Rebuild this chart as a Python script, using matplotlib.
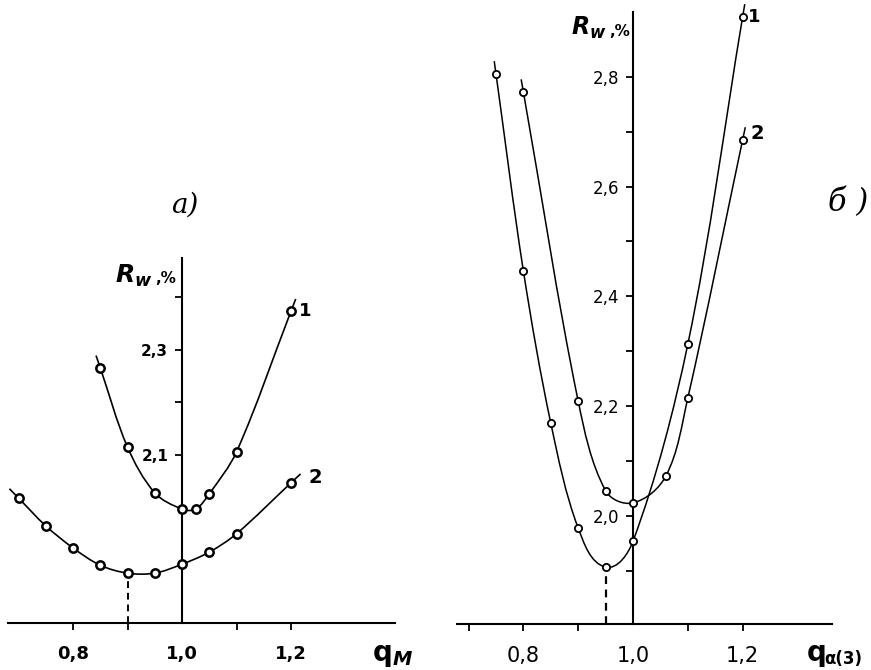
"""Two-panel R_w curves (a: vs q_M, b: vs q_alpha(3)), hand-drawn journal figure style."""
import matplotlib
matplotlib.use("Agg")
import matplotlib.pyplot as plt
import numpy as np
from matplotlib.path import Path
from matplotlib.patches import PathPatch

plt.rcParams["mathtext.fontset"] = "custom"
plt.rcParams["mathtext.it"] = "DejaVu Sans:italic:bold"
plt.rcParams["mathtext.bf"] = "DejaVu Sans:bold"
plt.rcParams["mathtext.rm"] = "DejaVu Sans:bold"

# panel a) -- R_w, % vs q_M
QM_1 = [0.85, 0.90, 0.95, 1.00, 1.025, 1.05, 1.10, 1.20]
RW_A1 = [2.266, 2.115, 2.028, 1.997, 1.997, 2.026, 2.106, 2.374]
QM_2 = [0.70, 0.75, 0.80, 0.85, 0.90, 0.95, 1.00, 1.05, 1.10, 1.20]
RW_A2 = [2.018, 1.965, 1.923, 1.890, 1.875, 1.875, 1.892, 1.915, 1.950, 2.047]
MIN_A = 0.90

# panel b) -- R_w, % vs q_alpha(3)
QA_1 = [0.75, 0.80, 0.85, 0.90, 0.95, 1.00, 1.10, 1.20]
RW_B1 = [2.805, 2.446, 2.169, 1.978, 1.907, 1.954, 2.313, 2.909]
QA_2 = [0.80, 0.90, 0.95, 1.00, 1.06, 1.10, 1.20]
RW_B2 = [2.772, 2.209, 2.046, 2.024, 2.073, 2.215, 2.685]
MIN_B = 0.95

XLAB_A = ["0,8", "1,0", "1,2"]
XMAJ_A = [0.8, 1.0, 1.2]
XMIN_A = [0.8, 0.9, 1.1, 1.2]
YLAB_A = ["2,1", "2,3"]
YMAJ_A = [2.1, 2.3]
YMIN_A = [2.1, 2.2, 2.3, 2.4]

XLAB_B = ["0,8", "1,0", "1,2"]
XMAJ_B = [0.8, 1.0, 1.2]
XMIN_B = [0.7, 0.8, 0.9, 1.1, 1.2]
YLAB_B = ["2,0", "2,2", "2,4", "2,6", "2,8"]
YMAJ_B = [2.0, 2.2, 2.4, 2.6, 2.8]
YMIN_B = [1.9, 2.0, 2.1, 2.2, 2.3, 2.4, 2.5, 2.6, 2.7, 2.8]

W, H = 871, 670


def _frame(rect_px, xlim, ylim):
    l, r, b, t = rect_px
    ax = fig.add_axes([l / W, 1 - b / H, (r - l) / W, (b - t) / H])
    ax.set_xlim(xlim); ax.set_ylim(ylim)
    ax.patch.set_alpha(0)
    for s in ("top", "right"):
        ax.spines[s].set_visible(False)
    ax.spines["left"].set_position(("data", 1.0))
    for s in ("left", "bottom"):
        ax.spines[s].set_linewidth(1.5)
    return ax


def _ticks(ax, xmaj, xlab, xmin, ymaj, ylab, ymin, xfs, yfs, weight):
    ax.set_xticks(xmaj); ax.set_xticklabels(xlab)
    ax.set_xticks(xmin, minor=True)
    ax.set_yticks(ymaj); ax.set_yticklabels(ylab)
    ax.set_yticks(ymin, minor=True)
    ax.xaxis.remove_overlapping_locs = False
    ax.yaxis.remove_overlapping_locs = False
    ax.tick_params(which="major", length=0)
    ax.tick_params(which="minor", length=5, width=1.3, direction="out")
    ax.tick_params(axis="x", which="major", pad=16, labelsize=xfs)
    ax.tick_params(axis="y", which="major", pad=10, labelsize=yfs)
    for t in ax.get_xticklabels() + ax.get_yticklabels():
        t.set_fontweight(weight)


def _curve(ax, xs, ys, lw, ms, mew, stub=13):
    # smooth line through the measured points (tangent-scaled bezier), short stub past each end
    pts = ax.transData.transform(np.column_stack([xs, ys]))
    d0 = pts[0] - pts[1]; d1 = pts[-1] - pts[-2]
    P = np.vstack([pts[0] + d0 / np.hypot(*d0) * stub, pts, pts[-1] + d1 / np.hypot(*d1) * stub])
    n = len(P)
    tang = []
    for i in range(n):
        d = P[min(i + 1, n - 1)] - P[max(i - 1, 0)]
        tang.append(d / np.hypot(*d))
    verts = [P[0]]; codes = [Path.MOVETO]
    for i in range(n - 1):
        L = np.hypot(*(P[i + 1] - P[i])) / 3.0
        verts += [P[i] + tang[i] * L, P[i + 1] - tang[i + 1] * L, P[i + 1]]
        codes += [Path.CURVE4] * 3
    verts = ax.transData.inverted().transform(np.array(verts))
    ax.add_patch(PathPatch(Path(verts, codes), fill=False, lw=lw, edgecolor="black",
                           clip_on=False, zorder=2))
    ax.plot(xs, ys, "o", ms=ms, mfc="white", mec="black", mew=mew, clip_on=False, zorder=3)


fig = plt.figure(figsize=(W / 100, H / 100), dpi=100)
fig.patch.set_facecolor("white")

# ---- a)
axa = _frame((8, 395, 623, 258), (0.6807, 1.3908), (1.780, 2.4752))
_ticks(axa, XMAJ_A, XLAB_A, XMIN_A, YMAJ_A, YLAB_A, YMIN_A, 13, 11, "bold")
_curve(axa, QM_1, RW_A1, 1.2, 6.0, 1.8)
_curve(axa, QM_2, RW_A2, 1.2, 6.0, 1.8)
i = QM_2.index(MIN_A)
axa.plot([MIN_A, MIN_A], [axa.get_ylim()[0], RW_A2[i]], color="black", lw=1.4,
         ls=(0, (3.5, 2.5)), zorder=1)
axa.annotate("1", (QM_1[-1], RW_A1[-1]), xytext=(8, 0), textcoords="offset pixels",
             fontsize=13, fontweight="bold", va="center", ha="left")
axa.annotate("2", (QM_2[-1], RW_A2[-1]), xytext=(17, 5), textcoords="offset pixels",
             fontsize=14, fontweight="bold", va="center", ha="left")

# ---- b)
axb = _frame((457, 832, 624, 12), (0.6788, 1.3631), (1.8033, 2.918))
_ticks(axb, XMAJ_B, XLAB_B, XMIN_B, YMAJ_B, YLAB_B, YMIN_B, 15, 12, "normal")
_curve(axb, QA_1, RW_B1, 1.1, 5.2, 1.3)
_curve(axb, QA_2, RW_B2, 1.1, 5.2, 1.3)
i = QA_1.index(MIN_B)
axb.plot([MIN_B, MIN_B], [axb.get_ylim()[0], RW_B1[i]], color="black", lw=1.6,
         ls=(0, (3.5, 2.5)), zorder=1)
axb.annotate("1", (QA_1[-1], RW_B1[-1]), xytext=(5, 0), textcoords="offset pixels",
             fontsize=13, fontweight="bold", va="center", ha="left")
axb.annotate("2", (QA_2[-1], RW_B2[-1]), xytext=(8, 6), textcoords="offset pixels",
             fontsize=14, fontweight="bold", va="center", ha="left")

# ---- labels
fig.text(115 / W, 1 - 283 / H, r"$R_{w}$", fontsize=18, ha="left", va="baseline")
fig.text(155 / W, 1 - 283 / H, ",%", fontsize=11, fontweight="bold", ha="left", va="baseline")
fig.text(571 / W, 1 - 35 / H, r"$R_{w}$", fontsize=17, ha="left", va="baseline")
fig.text(609 / W, 1 - 36 / H, ",%", fontsize=11, fontweight="bold", ha="left", va="baseline")
fig.text(372 / W, 1 - 661 / H, r"$\mathbf{q}_{M}$", fontsize=20, ha="left", va="baseline")
fig.text(807 / W, 1 - 661 / H, "q", fontsize=20, fontweight="bold", ha="left", va="baseline")
fig.text(824 / W, 1 - 664 / H, "α(3)", fontsize=12, fontweight="bold", ha="left", va="baseline")
fig.text(185 / W, 1 - 205 / H, "а)", fontsize=20, family="DejaVu Serif", style="italic",
         ha="center", va="center")
fig.text(848 / W, 1 - 203 / H, "б )", fontsize=22, family="DejaVu Serif", style="italic",
         ha="center", va="center")

fig.savefig("out.png", dpi=100, facecolor="white")
